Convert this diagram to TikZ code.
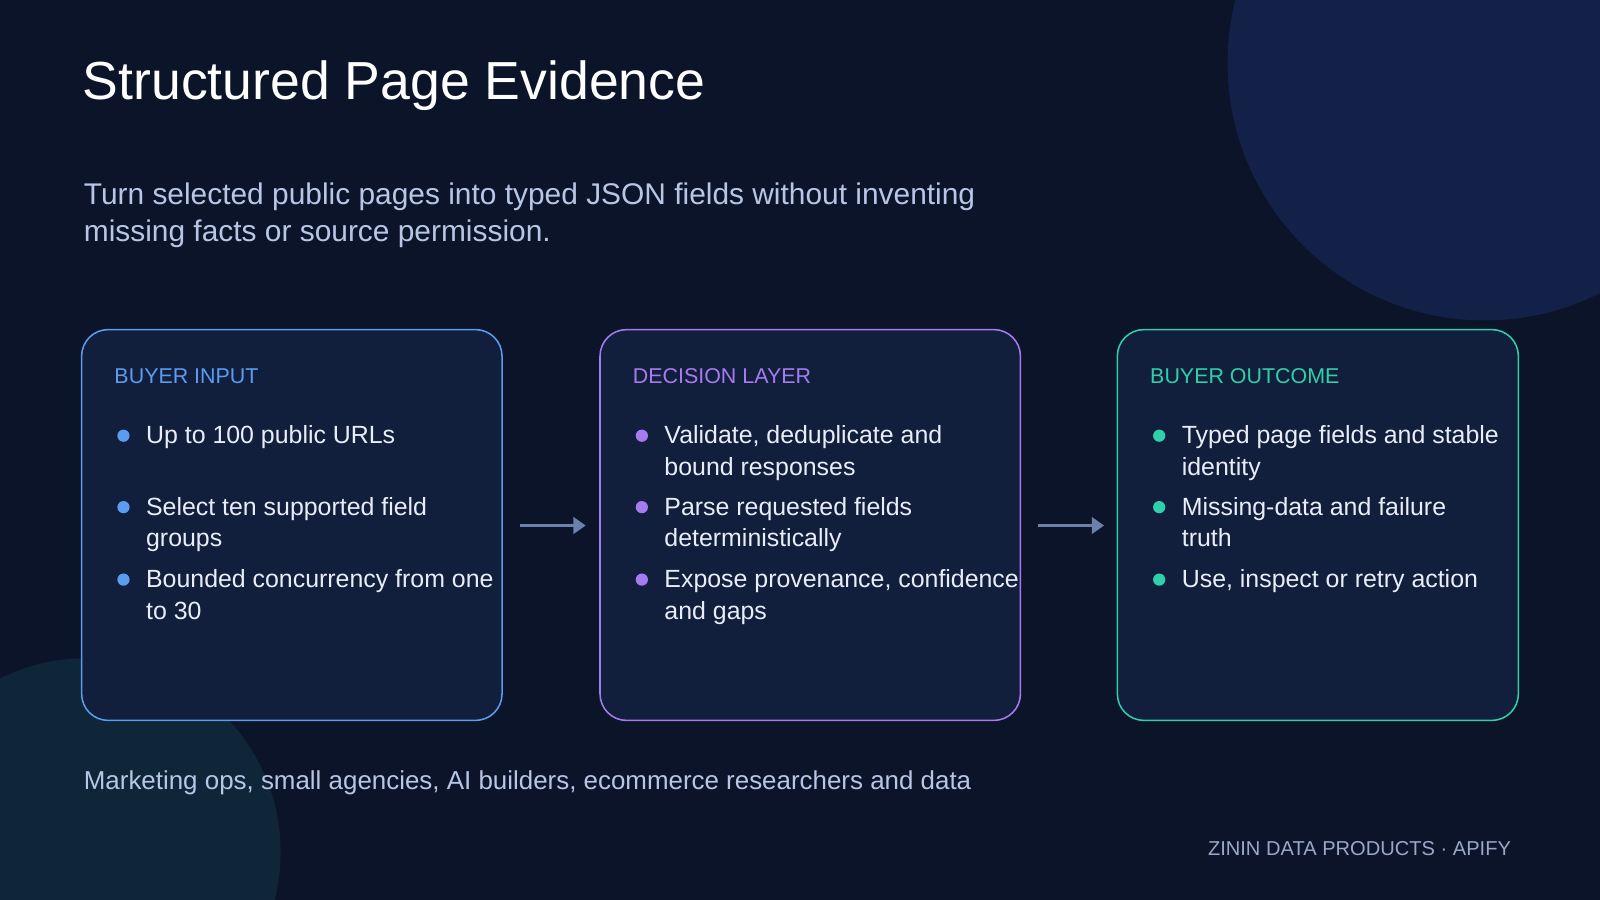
\documentclass[tikz,border=0pt]{standalone}
\usepackage{fontspec}
\setmainfont{Liberation Sans}
\usetikzlibrary{arrows.meta}
\definecolor{bg}{HTML}{0B1429}
\definecolor{boxfill}{HTML}{111E3C}
\definecolor{cblue}{HTML}{5B9CF0}
\definecolor{cpurple}{HTML}{A77BF0}
\definecolor{cteal}{HTML}{2FD0A8}
\definecolor{txt}{HTML}{E8EDF7}
\definecolor{sub}{HTML}{B8C6E6}
\definecolor{foot}{HTML}{9AA8C8}
\definecolor{arr}{HTML}{6B80AA}
\definecolor{circA}{HTML}{132148}
\definecolor{circB}{HTML}{0E2638}
\tikzset{
 card/.style={draw=#1, line width=1.5pt, fill=boxfill, rounded corners=26pt},
 lab/.style={anchor=base west, font=\fontsize{21}{25}\selectfont, text=#1, inner sep=0},
 itm/.style={anchor=base west, font=\fontsize{24.4}{31}\selectfont, text=txt, inner sep=0},
 dot/.style={circle, fill=#1, minimum size=12pt, inner sep=0},
 flow/.style={draw=arr, line width=3pt, -{Triangle[length=12pt,width=16pt]}}
}
\newcommand{\bul}[6]{% name, color, x, y, line1, line2
 \node[dot=#2] (#1d) at (#3-22,#4-8) {};
 \node[itm] (#1) at (#3,#4) {\vtop{\hbox{#5}\hbox{#6}}};}
\begin{document}
\begin{tikzpicture}[x=1pt,y=-1pt]
\fill[bg] (0,0) rectangle (1568,882);
\useasboundingbox (0,0) rectangle (1568,882);
\begin{scope}
\clip (0,0) rectangle (1568,882);
\fill[circA] (1455,62) circle (252);
\fill[circB] (85,835) circle (190);
\end{scope}
\node[anchor=base west, inner sep=0, text=white, font=\fontsize{52.5}{60}\selectfont] (title) at (81,98) {Structured Page Evidence};
\node[anchor=base west, inner sep=0, text=sub, font=\fontsize{29.3}{37}\selectfont] (subt) at (82,200) {\vtop{\hbox{Turn selected public pages into typed JSON fields without inventing}\hbox{missing facts or source permission.}}};
\draw[card=cblue] (80,323) rectangle (492,706);
\draw[card=cpurple] (588,323) rectangle (1000,706);
\draw[card=cteal] (1095,323) rectangle (1488,706);
\node[lab=cblue] (l1) at (112,376) {BUYER INPUT};
\node[lab=cpurple] (l2) at (620,376) {DECISION LAYER};
\node[lab=cteal] (l3) at (1127,376) {BUYER OUTCOME};
\bul{a1}{cblue}{143}{435}{Up to 100 public URLs}{}
\bul{a2}{cblue}{143}{505}{Select ten supported field}{groups}
\bul{a3}{cblue}{143}{576}{Bounded concurrency from one}{to 30}
\bul{b1}{cpurple}{651}{435}{Validate, deduplicate and}{bound responses}
\bul{b2}{cpurple}{651}{505}{Parse requested fields}{deterministically}
\bul{b3}{cpurple}{651}{576}{Expose provenance, confidence}{and gaps}
\bul{c1}{cteal}{1158}{435}{Typed page fields and stable}{identity}
\bul{c2}{cteal}{1158}{505}{Missing-data and failure}{truth}
\bul{c3}{cteal}{1158}{576}{Use, inspect or retry action}{}
\coordinate (s1) at (510,515); \coordinate (e1) at (574,515);
\coordinate (s2) at (1017,515); \coordinate (e2) at (1082,515);
\draw[flow] (s1) -- (e1);
\draw[flow] (s2) -- (e2);
\node[anchor=base west, inner sep=0, text=sub, font=\fontsize{25.4}{30}\selectfont] (aud) at (82,774) {Marketing ops, small agencies, AI builders, ecommerce researchers and data};
\node[anchor=base east, inner sep=0, text=foot, font=\fontsize{19.7}{23}\selectfont] (brand) at (1481,838) {ZININ DATA PRODUCTS · APIFY};
\end{tikzpicture}
\end{document}
